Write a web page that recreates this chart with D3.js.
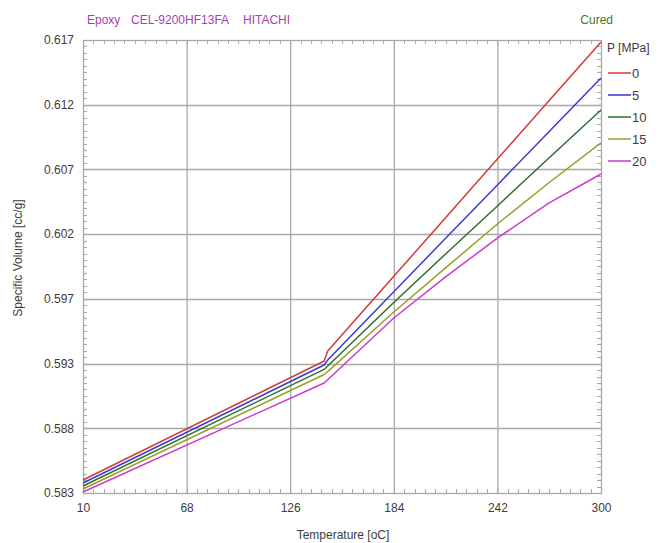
<!DOCTYPE html>
<html>
<head>
<meta charset="utf-8">
<script src="https://cdn.jsdelivr.net/npm/d3@7"></script>
<style>
  html, body { margin: 0; padding: 0; background: #ffffff; }
  svg { display: block; font-family: "Liberation Sans", Arial, sans-serif; }
</style>
</head>
<body>
<div id="chart"></div>
<script>
// ---- data ----
const pressures = ["0", "5", "10", "15", "20"];
const seriesColors = ["#d23a3a", "#3a3ad2", "#2f6e2f", "#9c9c2a", "#cc3acc"];
const temperatures = [10, 145, 147, 184, 213, 242, 271, 300];
const volP0  = [0.58360, 0.59272, 0.59348, 0.59921, 0.60370, 0.60819, 0.61268, 0.61717];
const volP5  = [0.58337, 0.59241, 0.59279, 0.59802, 0.60212, 0.60621, 0.61031, 0.61441];
const volP10 = [0.58314, 0.59208, 0.59233, 0.59720, 0.60092, 0.60460, 0.60830, 0.61196];
const volP15 = [0.58291, 0.59168, 0.59190, 0.59647, 0.59985, 0.60322, 0.60640, 0.60943];
const volP20 = [0.58268, 0.59103, 0.59128, 0.59601, 0.59916, 0.60214, 0.60483, 0.60705];
const seriesValues = [volP0, volP5, volP10, volP15, volP20];
const xTickLabels = [10, 68, 126, 184, 242, 300];
const yTickLabels = ["0.583", "0.588", "0.593", "0.597", "0.602", "0.607", "0.612", "0.617"];
const yDomain = [0.58260, 0.61732];
const xDomain = [10, 300];

// ---- layout ----
const W = 662, H = 543;
const L = 83, R = 601, T = 40, B = 493;
const gridColor = "#a8a8a8";

const svg = d3.select("#chart").append("svg").attr("width", W).attr("height", H);

const x = d3.scaleLinear().domain(xDomain).range([L, R]);
const y = d3.scaleLinear().domain(yDomain).range([B, T]);

const yTickVals = yTickLabels.map((_, i) => yDomain[0] + i * (yDomain[1] - yDomain[0]) / (yTickLabels.length - 1));

// grid
svg.append("g").selectAll("line").data(xTickLabels.slice(1, -1)).join("line")
  .attr("x1", d => x(d) + 0.5).attr("x2", d => x(d) + 0.5)
  .attr("y1", T).attr("y2", B)
  .attr("stroke", gridColor).attr("stroke-width", 1.3);
svg.append("g").selectAll("line").data(yTickVals.slice(1, -1)).join("line")
  .attr("x1", L).attr("x2", R)
  .attr("y1", d => Math.round(y(d)) + 0.5).attr("y2", d => Math.round(y(d)) + 0.5)
  .attr("stroke", gridColor).attr("stroke-width", 1.3);

// minor ticks
const xMinor = d3.range(0, 51).map(i => xDomain[0] + i * (xDomain[1] - xDomain[0]) / 50);
const yMinor = d3.range(0, 71).map(i => yDomain[0] + i * (yDomain[1] - yDomain[0]) / 70);
const tickG = svg.append("g").attr("stroke", gridColor).attr("stroke-width", 1);
const tl = 4;
xMinor.forEach(v => {
  const px = Math.round(x(v)) + 0.5;
  tickG.append("line").attr("x1", px).attr("x2", px).attr("y1", B).attr("y2", B - tl);
  tickG.append("line").attr("x1", px).attr("x2", px).attr("y1", T).attr("y2", T + tl);
});
yMinor.forEach(v => {
  const py = Math.round(y(v)) + 0.5;
  tickG.append("line").attr("x1", L).attr("x2", L + tl).attr("y1", py).attr("y2", py);
  tickG.append("line").attr("x1", R).attr("x2", R - tl).attr("y1", py).attr("y2", py);
});

// border
svg.append("rect").attr("x", L + 0.5).attr("y", T + 0.5).attr("width", R - L).attr("height", B - T)
  .attr("fill", "none").attr("stroke", gridColor).attr("stroke-width", 1.3);

// axes labels via d3 axes (domain hidden)
const xAxis = d3.axisBottom(x).tickValues(xTickLabels).tickSize(0).tickPadding(10).tickFormat(d3.format("d"));
const gx = svg.append("g").attr("transform", `translate(0,${B})`).call(xAxis);
gx.select(".domain").remove();
gx.selectAll("text").attr("font-size", 12).attr("fill", "#3c3c3c").attr("font-family", "Liberation Sans, Arial, sans-serif");

const yAxis = d3.axisLeft(y).tickValues(yTickVals).tickSize(0).tickPadding(9)
  .tickFormat((d, i) => yTickLabels[i]);
const gy = svg.append("g").attr("transform", `translate(${L},0)`).call(yAxis);
gy.select(".domain").remove();
gy.selectAll("text").attr("font-size", 12).attr("fill", "#3c3c3c").attr("font-family", "Liberation Sans, Arial, sans-serif");

// series lines
const line = d3.line().x(d => x(d[0])).y(d => y(d[1]));
seriesValues.forEach((vals, i) => {
  svg.append("path")
    .datum(temperatures.map((t, k) => [t, vals[k]]))
    .attr("d", line)
    .attr("fill", "none")
    .attr("stroke", seriesColors[i])
    .attr("stroke-width", 1.5)
    .attr("stroke-linejoin", "round");
});

// titles
const purple = "#a33fb3";
svg.append("text").attr("x", 87).attr("y", 24).attr("font-size", 12).attr("fill", purple).text("Epoxy");
svg.append("text").attr("x", 131).attr("y", 24).attr("font-size", 12).attr("fill", purple).text("CEL-9200HF13FA");
svg.append("text").attr("x", 243).attr("y", 24).attr("font-size", 12).attr("fill", purple).text("HITACHI");
svg.append("text").attr("x", 613).attr("y", 24).attr("font-size", 12).attr("fill", "#3f7a22").attr("text-anchor", "end").text("Cured");

svg.append("text").attr("x", 343).attr("y", 539).attr("font-size", 12).attr("fill", "#3c3c3c")
  .attr("text-anchor", "middle").text("Temperature [oC]");
svg.append("text").attr("transform", "translate(22,258) rotate(-90)").attr("font-size", 12).attr("fill", "#3c3c3c")
  .attr("text-anchor", "middle").text("Specific Volume [cc/g]");

// legend
const lg = svg.append("g");
lg.append("text").attr("x", 607).attr("y", 52).attr("font-size", 12).attr("fill", "#3c3c3c").text("P [MPa]");
pressures.forEach((p, i) => {
  const ly = 73 + i * 22;
  lg.append("line").attr("x1", 608).attr("x2", 631).attr("y1", ly).attr("y2", ly)
    .attr("stroke", seriesColors[i]).attr("stroke-width", 1.5);
  lg.append("text").attr("x", 632).attr("y", ly + 4.5).attr("font-size", 13).attr("fill", "#3c3c3c").text(p);
});
</script>
</body>
</html>
